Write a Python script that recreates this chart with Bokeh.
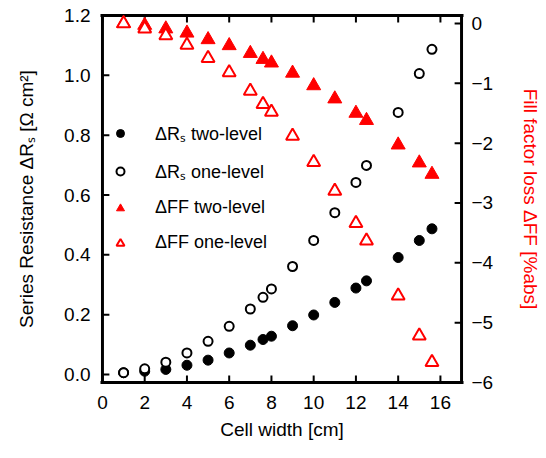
import math
from bokeh.plotting import figure
from bokeh.models import (LinearAxis, Range1d, FixedTicker, Legend, LegendItem,
                          NumeralTickFormatter)
from bokeh.embed import file_html
from bokeh.resources import INLINE

# ---- data ----
cell_width = [1, 2, 3, 4, 5, 6, 7, 7.6, 8, 9, 10, 11, 12, 12.5, 14, 15, 15.6]
rs_two = [0.006, 0.011, 0.017, 0.031, 0.048, 0.072, 0.098, 0.117, 0.128, 0.163,
          0.199, 0.241, 0.289, 0.313, 0.391, 0.448, 0.487]
rs_one = [0.006, 0.019, 0.041, 0.072, 0.111, 0.161, 0.219, 0.258, 0.286, 0.361,
          0.448, 0.541, 0.642, 0.699, 0.876, 1.006, 1.087]
ff_two = [0.0, -0.03, -0.09, -0.16, -0.27, -0.37, -0.50, -0.60, -0.66, -0.83,
          -1.04, -1.26, -1.50, -1.62, -2.03, -2.33, -2.52]
ff_one = [0.0, -0.09, -0.20, -0.36, -0.58, -0.82, -1.13, -1.35, -1.48, -1.88,
          -2.32, -2.80, -3.34, -3.63, -4.55, -5.22, -5.66]
x_ticks = [0, 2, 4, 6, 8, 10, 12, 14, 16]
left_ticks = [0.0, 0.2, 0.4, 0.6, 0.8, 1.0, 1.2]
right_ticks = [-6, -5, -4, -3, -2, -1, 0]

FONT = "Liberation Sans"
FS = "19px"

# visible frame limits (data) and size in px
X0, X1 = 0.0, 17.0
YL0, YL1 = -0.0267, 1.2
YR0, YR1 = -6.0, 0.133
FW, FH = 367.0, 367.0
PAD = 2.0
pxx = FW / (X1 - X0)
pyl = FH / (YL1 - YL0)
pyr = FH / (YR1 - YR0)

W, H = 544, 456
p = figure(width=W, height=H,
           x_range=Range1d(X0 - PAD / pxx, X1 + PAD / pxx),
           y_range=Range1d(YL0 - PAD / pyl, YL1 + PAD / pyl),
           output_backend="svg", toolbar_location=None,
           min_border_left=100, min_border_right=W - 100 - int(FW + 2 * PAD),
           min_border_top=13, min_border_bottom=H - 13 - int(FH + 2 * PAD))
p.extra_y_ranges = {"ff": Range1d(YR0 - PAD / pyr, YR1 + PAD / pyr)}
p.xgrid.visible = False
p.ygrid.visible = False
p.outline_line_color = None

def style(ax, ticks):
    ax.ticker = FixedTicker(ticks=ticks)
    ax.axis_line_color = None
    ax.major_tick_line_color = None
    ax.minor_tick_line_color = None
    ax.major_tick_in = 0
    ax.major_tick_out = 0
    ax.major_label_text_font = FONT
    ax.major_label_text_font_size = FS
    ax.major_label_text_color = "black"
    ax.axis_label_text_font = FONT
    ax.axis_label_text_font_size = FS
    ax.axis_label_text_font_style = "normal"
    ax.axis_label_text_color = "black"

xa = p.xaxis[0]
style(xa, x_ticks)
xa.axis_label = "Cell width [cm]"
xa.major_label_standoff = 11
xa.axis_label_standoff = 7

ya = p.yaxis[0]
style(ya, left_ticks)
ya.formatter = NumeralTickFormatter(format="0.0")
ya.axis_label = "Series Resistance ΔRₛ [Ω cm²]"
ya.major_label_standoff = 10
ya.axis_label_standoff = 24

ra = LinearAxis(y_range_name="ff")
style(ra, right_ticks)
ra.axis_label = "Fill factor loss ΔFF [%abs]"
ra.axis_label_text_color = "red"
ra.major_label_standoff = 8
ra.axis_label_standoff = 24
p.add_layout(ra, "right")

# ---- frame: four long dash markers along the visible frame edges ----
xm = (X0 + X1) / 2
ylm = (YL0 + YL1) / 2
p.scatter(x=[xm, xm], y=[YL0, YL1], marker="dash", size=FW + 3,
          line_color="black", line_width=3)
p.scatter(x=[X0, X1], y=[ylm, ylm], marker="dash", size=FH + 3, angle=math.pi / 2,
          line_color="black", line_width=3)

# ---- inward ticks as dash markers (7 px long, 2 px thick) ----
TL = 7.0
n = len(x_ticks)
p.scatter(x=x_ticks, y=[YL0 + TL / 2 / pyl] * n, marker="dash", size=TL, angle=math.pi / 2,
          line_color="black", line_width=2)
p.scatter(x=x_ticks, y=[YL1 - TL / 2 / pyl] * n, marker="dash", size=TL, angle=math.pi / 2,
          line_color="black", line_width=2)
p.scatter(x=[X0 + TL / 2 / pxx] * len(left_ticks), y=left_ticks, marker="dash", size=TL,
          line_color="black", line_width=2)
p.scatter(x=[X1 - TL / 2 / pxx] * len(right_ticks), y=right_ticks, marker="dash", size=TL,
          line_color="black", line_width=2, y_range_name="ff")

# ---- data markers ----
r1 = p.scatter(cell_width, rs_two, marker="circle", size=10, fill_color="black", line_color="black")
r3 = p.scatter(cell_width, ff_two, marker="triangle", size=14, fill_color="red", line_color="red",
               y_range_name="ff")
r2 = p.scatter(cell_width, rs_one, marker="circle", size=9, fill_color="white", line_color="black",
               line_width=2)
r4 = p.scatter(cell_width, ff_one, marker="triangle", size=13, fill_color="white", line_color="red",
               line_width=2, y_range_name="ff")

legend = Legend(items=[
    LegendItem(label="ΔRₛ two-level", renderers=[r1]),
    LegendItem(label="ΔRₛ one-level", renderers=[r2]),
    LegendItem(label="ΔFF two-level", renderers=[r3]),
    LegendItem(label="ΔFF one-level", renderers=[r4]),
], location=(10, 131))
legend.label_text_font = FONT
legend.label_text_font_size = "18px"
legend.label_text_color = "black"
legend.glyph_width = 20
legend.glyph_height = 20
legend.label_height = 20
legend.label_standoff = 25
legend.spacing = 14
legend.padding = 0
legend.margin = 0
legend.border_line_color = None
legend.background_fill_alpha = 0
p.add_layout(legend)

open("out.html", "w").write(file_html(p, INLINE))
